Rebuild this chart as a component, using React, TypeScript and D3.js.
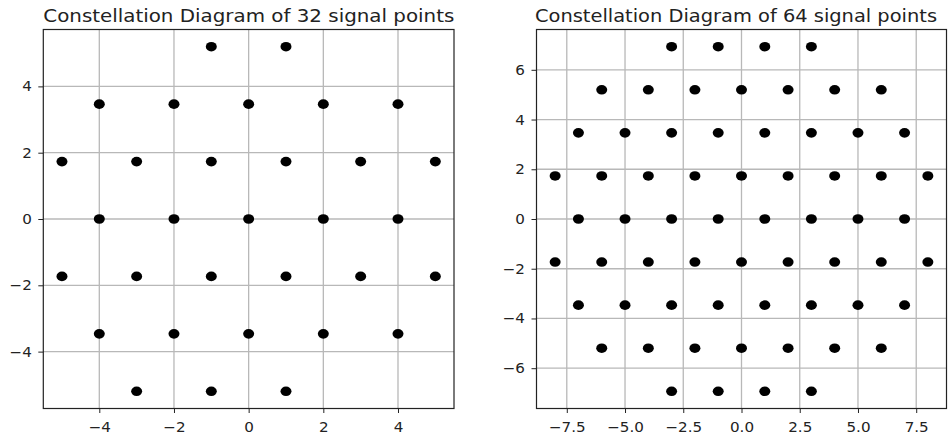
import React from 'react';
import { select, scaleLinear, axisBottom, axisLeft } from 'd3';

// 32-point constellation: row levels (Q) and the I values on each row
const rows32Q = [5.196, 3.464, 1.732, 0, -1.732, -3.464, -5.196];
const rows32I = [
  [-1, 1],
  [-4, -2, 0, 2, 4],
  [-5, -3, -1, 1, 3, 5],
  [-4, -2, 0, 2, 4],
  [-5, -3, -1, 1, 3, 5],
  [-4, -2, 0, 2, 4],
  [-3, -1, 1],
];

// 64-point constellation
const rows64Q = [6.928, 5.196, 3.464, 1.732, 0, -1.732, -3.464, -5.196, -6.928];
const rows64I = [
  [-3, -1, 1, 3],
  [-6, -4, -2, 0, 2, 4, 6],
  [-7, -5, -3, -1, 1, 3, 5, 7],
  [-8, -6, -4, -2, 0, 2, 4, 6, 8],
  [-7, -5, -3, -1, 1, 3, 5, 7],
  [-8, -6, -4, -2, 0, 2, 4, 6, 8],
  [-7, -5, -3, -1, 1, 3, 5, 7],
  [-6, -4, -2, 0, 2, 4, 6],
  [-3, -1, 1, 3],
];

const xTicks32 = [-4, -2, 0, 2, 4];
const yTicks32 = [-4, -2, 0, 2, 4];
const xTicks64 = [-7.5, -5, -2.5, 0, 2.5, 5, 7.5];
const yTicks64 = [-6, -4, -2, 0, 2, 4, 6];

const titles = [
  'Constellation Diagram of 32 signal points',
  'Constellation Diagram of 64 signal points',
];

const FONT = 'DejaVu Sans, sans-serif';
const STRETCH = 1.08;

function toPoints(qs: number[], is: number[][]) {
  const pts: [number, number][] = [];
  qs.forEach((q, r) => is[r].forEach((i) => pts.push([i, q])));
  return pts;
}

const minus = (s: string) => s.replace('-', '\u2212');

function drawPanel(svg: any, cfg: any) {
  const pts = toPoints(cfg.qs, cfg.is);
  const xs = pts.map((p) => p[0]);
  const ys = pts.map((p) => p[1]);
  const xMin = Math.min(...xs), xMax = Math.max(...xs);
  const yMin = Math.min(...ys), yMax = Math.max(...ys);
  const mx = (xMax - xMin) * 0.05, my = (yMax - yMin) * 0.05;

  const x = scaleLinear().domain([xMin - mx, xMax + mx]).range([cfg.left, cfg.right]);
  const y = scaleLinear().domain([yMin - my, yMax + my]).range([cfg.bottom, cfg.top]);

  const g = svg.append('g');

  // grid
  g.selectAll('.gx')
    .data(cfg.xTicks)
    .join('line')
    .attr('x1', (d: number) => x(d))
    .attr('x2', (d: number) => x(d))
    .attr('y1', cfg.top)
    .attr('y2', cfg.bottom)
    .attr('stroke', '#b8b8b8')
    .attr('stroke-width', 1.3);
  g.selectAll('.gy')
    .data(cfg.yTicks)
    .join('line')
    .attr('y1', (d: number) => y(d))
    .attr('y2', (d: number) => y(d))
    .attr('x1', cfg.left)
    .attr('x2', cfg.right)
    .attr('stroke', '#b8b8b8')
    .attr('stroke-width', 1.3);

  // points
  g.selectAll('.pt')
    .data(pts)
    .join('ellipse')
    .attr('cx', (d: [number, number]) => x(d[0]))
    .attr('cy', (d: [number, number]) => y(d[1]))
    .attr('rx', 5.5)
    .attr('ry', 4.8)
    .attr('fill', '#000');

  // axes
  const xAxis = axisBottom(x)
    .tickValues(cfg.xTicks)
    .tickSize(4.5)
    .tickPadding(8.7)
    .tickFormat((d: any) => minus(cfg.xFmt(d)));
  const gx = g.append('g').attr('transform', `translate(0,${cfg.bottom})`).call(xAxis);

  const yAxis = axisLeft(y)
    .tickValues(cfg.yTicks)
    .tickSize(5)
    .tickPadding(5.7)
    .tickFormat((d: any) => minus(String(d)));
  const gy = g.append('g').attr('transform', `translate(${cfg.left},0)`).call(yAxis);

  [gx, gy].forEach((a) => {
    a.select('.domain').remove();
    a.selectAll('line').attr('stroke', '#222').attr('stroke-width', 1);
    a.selectAll('text')
      .attr('fill', '#222')
      .style('font-family', FONT)
      .style('font-size', '14px')
      .attr('transform', `scale(${STRETCH},1)`);
  });
  gx.selectAll('text').attr('dy', '0.71em');

  // frame
  g.append('rect')
    .attr('x', cfg.left)
    .attr('y', cfg.top)
    .attr('width', cfg.right - cfg.left)
    .attr('height', cfg.bottom - cfg.top)
    .attr('fill', 'none')
    .attr('stroke', '#222')
    .attr('stroke-width', 1.2);

  // title
  g.append('text')
    .attr('x', cfg.titleX)
    .attr('y', 22)
    .attr('textLength', cfg.titleW)
    .attr('lengthAdjust', 'spacingAndGlyphs')
    .attr('fill', '#222')
    .style('font-family', FONT)
    .style('font-size', '18px')
    .text(cfg.title);
}

function App() {
  const svgRef = React.useRef<SVGSVGElement>(null);

  React.useEffect(() => {
    const svg = select(svgRef.current);
    svg.selectAll('*').remove();

    drawPanel(svg, {
      qs: rows32Q, is: rows32I,
      left: 43.3, right: 454, top: 29.5, bottom: 408.5,
      xTicks: xTicks32, yTicks: yTicks32,
      xFmt: (d: number) => String(d),
      title: titles[0], titleX: 43.3, titleW: 411,
    });
    drawPanel(svg, {
      qs: rows64Q, is: rows64I,
      left: 536.5, right: 946.5, top: 29.5, bottom: 408.5,
      xTicks: xTicks64, yTicks: yTicks64,
      xFmt: (d: number) => d.toFixed(1),
      title: titles[1], titleX: 535, titleW: 402,
    });
  }, []);

  return (
    <div style={{ position: 'fixed', left: 0, top: 0 }}>
      <svg ref={svgRef} width={951} height={436} style={{ display: 'block', background: '#fff' }} />
    </div>
  );
}

export default App;
